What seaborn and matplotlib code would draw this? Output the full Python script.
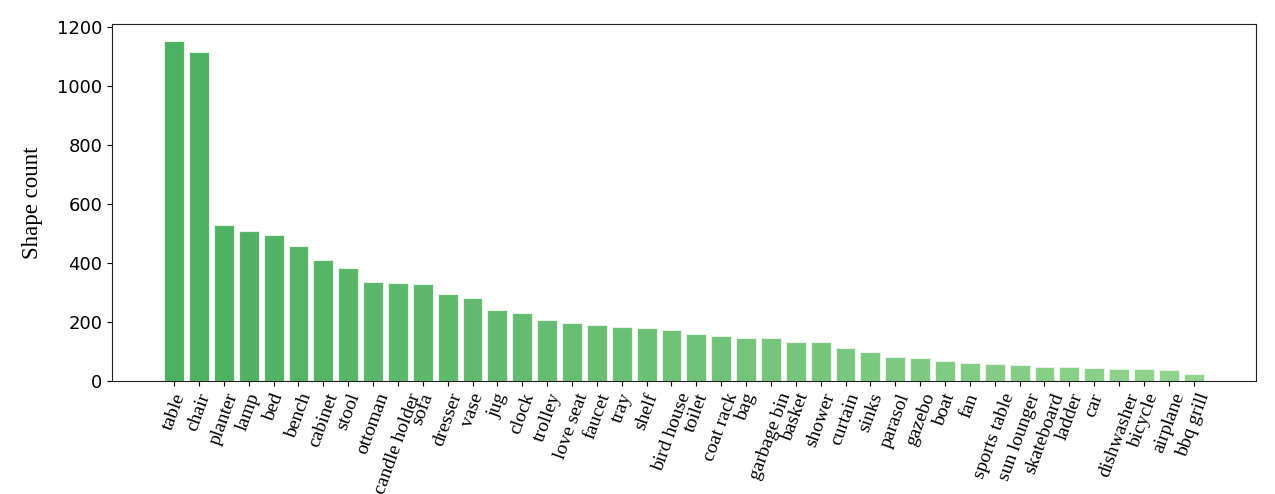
import matplotlib
matplotlib.use("Agg")
import matplotlib.pyplot as plt
import seaborn as sns
import pandas as pd

categories = ["table", "chair", "planter", "lamp", "bed", "bench", "cabinet", "stool",
              "ottoman", "candle holder", "sofa", "dresser", "vase", "jug", "clock",
              "trolley", "love seat", "faucet", "tray", "shelf", "bird house", "toilet",
              "coat rack", "bag", "garbage bin", "basket", "shower", "curtain", "sinks",
              "parasol", "gazebo", "boat", "fan", "sports table", "sun lounger",
              "skateboard", "ladder", "car", "dishwasher", "bicycle", "airplane", "bbq grill"]
counts = [1151, 1113, 528, 507, 493, 457, 410, 382,
          335, 332, 328, 293, 282, 240, 229,
          205, 197, 189, 184, 179, 173, 160,
          151, 147, 146, 133, 132, 113, 98,
          82, 79, 68, 61, 56, 54,
          47, 46, 43, 42, 41, 38, 24]

df = pd.DataFrame({"category": categories, "count": counts})
palette = sns.blend_palette(["#4caf62", "#91d38d"], len(categories))

fig = plt.figure(figsize=(12.75, 4.94), dpi=100)
ax = fig.add_axes([0.0878, 0.2287, 0.8972, 0.7227])
sns.barplot(data=df, x="category", y="count", hue="category", palette=palette,
            legend=False, width=0.8, saturation=1, edgecolor="#e6f4e6",
            linewidth=0.8, ax=ax)
ax.set_xlim(-2.5, 43.5)
ax.set_ylim(0, 1151 * 1.05)
ax.set_xlabel("")
ax.set_ylabel("Shape count", fontfamily="Liberation Serif", fontsize=16.5, labelpad=10)
ax.set_yticks([0, 200, 400, 600, 800, 1000, 1200])
ax.tick_params(axis="y", labelsize=13)
ax.set_xticks(range(len(categories)))
ax.set_xticklabels(categories, rotation=70, ha="center",
                   fontfamily="Liberation Serif", fontsize=14)
for s in ax.spines.values():
    s.set_color("#222222")
fig.savefig("out.png", dpi=100)
